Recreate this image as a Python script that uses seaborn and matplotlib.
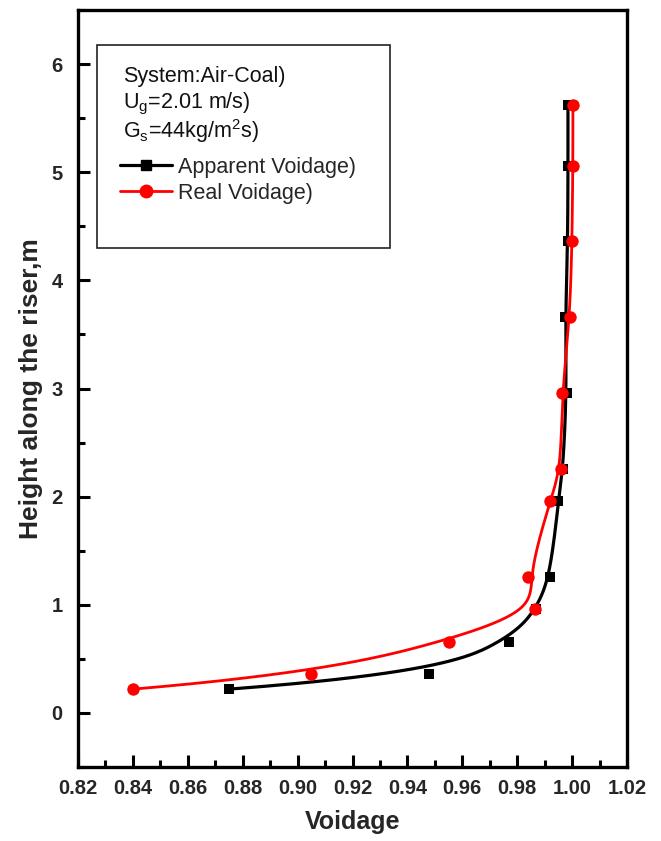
import numpy as np
import pandas as pd
import matplotlib
matplotlib.use("Agg")
import matplotlib.pyplot as plt
import seaborn as sns
from matplotlib.ticker import MultipleLocator, FormatStrFormatter
from matplotlib.lines import Line2D
from matplotlib.patches import Rectangle

# Axial voidage profile along the riser
height = [0.22, 0.36, 0.66, 0.96, 1.26, 1.96, 2.26, 2.96, 3.66, 4.36, 5.06, 5.62]
apparent_voidage = [0.875, 0.948, 0.977, 0.987, 0.992, 0.995, 0.9967, 0.998,
                    0.9975, 0.9985, 0.9985, 0.9985]
real_voidage = [0.840, 0.905, 0.955, 0.9865, 0.984, 0.992, 0.996, 0.9963,
                0.9992, 1.0000, 1.0003, 1.0003]

x_ticks = [0.82, 0.84, 0.86, 0.88, 0.90, 0.92, 0.94, 0.96, 0.98, 1.00, 1.02]
y_ticks = [0, 1, 2, 3, 4, 5, 6]

sns.set_theme(style="ticks")
plt.rcParams["font.family"] = ["Liberation Sans", "DejaVu Sans"]
plt.rcParams["mathtext.fontset"] = "custom"
plt.rcParams["mathtext.rm"] = "Liberation Sans"


def bspline(xs, ys, n=600, k=3):
    """Clamped uniform B-spline using the data points as control points."""
    P = np.column_stack([xs, ys])
    m = len(P)
    kn = np.concatenate([np.zeros(k), np.linspace(0, 1, m - k + 1), np.ones(k)])
    t = np.linspace(0, 1, n)
    t[-1] -= 1e-12
    N = np.array([((kn[i] <= t) & (t < kn[i + 1])).astype(float)
                  for i in range(len(kn) - 1)])
    for d in range(1, k + 1):
        Nn = np.zeros((len(kn) - 1 - d, n))
        for i in range(len(kn) - 1 - d):
            a = kn[i + d] - kn[i]
            b = kn[i + d + 1] - kn[i + 1]
            term = np.zeros(n)
            if a > 0:
                term += (t - kn[i]) / a * N[i]
            if b > 0:
                term += (kn[i + d + 1] - t) / b * N[i + 1]
            Nn[i] = term
        N = Nn
    C = N.T @ P
    return C[:, 0], C[:, 1]


fig = plt.figure(figsize=(6.61, 8.41), dpi=100)
ax = fig.add_axes([78 / 661, 1 - 767 / 841, 549 / 661, 757 / 841])

df = pd.DataFrame({"height": height, "apparent": apparent_voidage, "real": real_voidage})

ax_x, ax_y = bspline(df["apparent"].values, df["height"].values)
re_x, re_y = bspline(df["real"].values, df["height"].values)

sns.lineplot(x=ax_x, y=ax_y, sort=False, estimator=None, color="black", lw=2.3, ax=ax)
sns.scatterplot(data=df, x="apparent", y="height", marker="s", s=52, color="black",
                linewidth=0, ax=ax, zorder=3)
sns.lineplot(x=re_x, y=re_y, sort=False, estimator=None, color="#ff0000", lw=2.0, ax=ax)
sns.scatterplot(data=df, x="real", y="height", marker="o", s=80, color="#ff0000",
                linewidth=0, ax=ax, zorder=4)

ax.set_xlim(0.82, 1.02)
ax.set_ylim(-0.5, 6.5)
ax.set_xticks(x_ticks)
ax.set_yticks(y_ticks)
ax.xaxis.set_major_formatter(FormatStrFormatter("%.2f"))
ax.xaxis.set_minor_locator(MultipleLocator(0.01))
ax.yaxis.set_minor_locator(MultipleLocator(0.5))
ax.tick_params(which="both", direction="in", top=False, right=False, width=2.2,
               color="black")
ax.tick_params(which="major", length=8.5)
ax.tick_params(which="minor", length=5)
ax.tick_params(axis="x", which="major", pad=9)
ax.tick_params(axis="y", which="major", pad=11)
for lab in ax.get_xticklabels() + ax.get_yticklabels():
    lab.set_fontsize(14.5)
    lab.set_fontweight("bold")
for sp in ax.spines.values():
    sp.set_linewidth(2.4)
    sp.set_color("black")
    sp.set_visible(True)

ax.set_xlabel("Voidage", fontsize=18, fontweight="bold", labelpad=8)
ax.set_ylabel("Height along the riser,m", fontsize=19, fontweight="bold", labelpad=6)

# Legend box with the operating conditions
ax.add_patch(Rectangle((0.0346, 0.6856), 0.5334, 0.2682, transform=ax.transAxes,
                       fill=False, edgecolor="#222222", lw=1.2, zorder=5))
info = ["System:Air-Coal)",
        r"U$_\mathregular{g}$=2.01 m/s)",
        r"G$_\mathregular{s}$=44kg/m$^\mathregular{2}$s)"]
for txt, yy in zip(info, [0.912, 0.8765, 0.8395]):
    ax.text(0.082, yy, txt, transform=ax.transAxes, fontsize=15.5, va="center",
            ha="left", color="#111111", zorder=6)

handles = [Line2D([], [], color="black", marker="s", markersize=7.2, lw=2.3),
           Line2D([], [], color="#ff0000", marker="o", markersize=9, lw=2.0)]
ax.legend(handles, ["Apparent Voidage)", "Real Voidage)"], loc="upper left",
          bbox_to_anchor=(0.077, 0.806), frameon=False, fontsize=15.5,
          handlelength=2.4, handletextpad=0.3, labelspacing=0.22,
          borderpad=0, borderaxespad=0)

fig.savefig("out.png", dpi=100)
